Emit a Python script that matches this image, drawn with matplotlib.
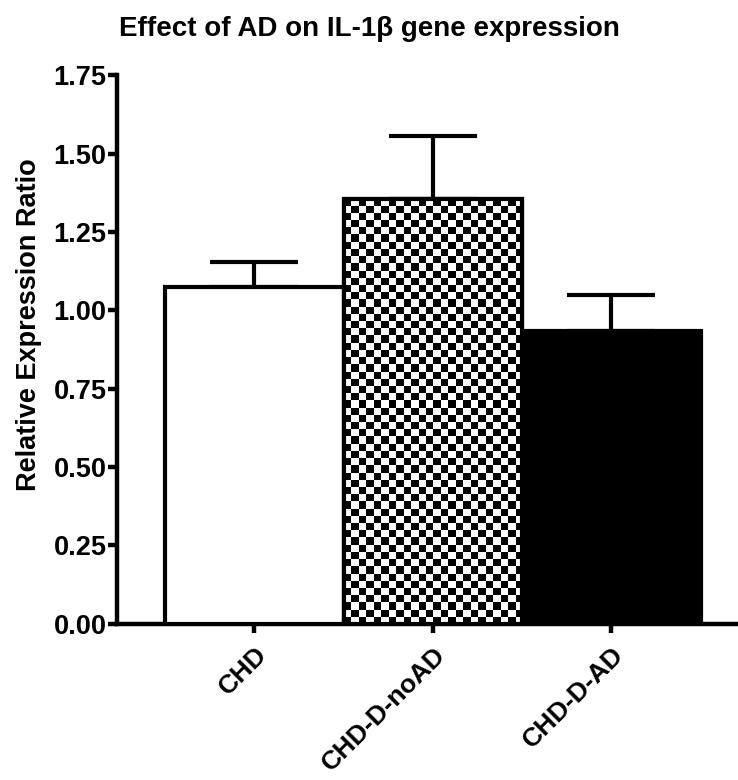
import numpy as np
import matplotlib
matplotlib.use("Agg")
import matplotlib.pyplot as plt
from matplotlib.transforms import ScaledTranslation

groups = ["CHD", "CHD-D-noAD", "CHD-D-AD"]
means = [1.075, 1.355, 0.935]
errors = [0.08, 0.20, 0.115]
y_ticks = [0.00, 0.25, 0.50, 0.75, 1.00, 1.25, 1.50, 1.75]

plt.rcParams["font.family"] = ["Liberation Sans", "DejaVu Sans"]
plt.rcParams["font.weight"] = "bold"

fig = plt.figure(figsize=(7.38, 7.8), dpi=100)
ax = fig.add_axes([0.1585, 0.2006, 0.8415, 0.7029])

x = np.arange(len(groups))
bars = ax.bar(x, means, width=1.0, color=["white", "white", "black"],
              edgecolor="black", linewidth=3, zorder=3)

# checkered fill for the middle bar, clipped to the bar patch
mid = bars[1]
ncols = 24
cell_y = 0.023
nrows = int(np.ceil(mid.get_height() / cell_y))
checker = (np.indices((nrows, ncols)).sum(axis=0) % 2).astype(float)
im = ax.imshow(checker, cmap="gray", interpolation="nearest", aspect="auto",
               extent=[mid.get_x(), mid.get_x() + mid.get_width(),
                        0, nrows * cell_y], origin="lower", zorder=3.5)
im.set_clip_path(mid)
ax.bar([x[1]], [means[1]], width=1.0, color="none", edgecolor="black",
       linewidth=3, zorder=4)

ax.errorbar(x, means, yerr=[[0] * len(groups), errors], fmt="none",
            ecolor="black", elinewidth=3, capsize=32, capthick=3, zorder=2)

ax.set_xlim(-0.77, 2.71)
ax.set_ylim(0, 1.75)
ax.set_yticks(y_ticks)
ax.set_yticklabels([f"{t:.2f}" for t in y_ticks], fontsize=19.5, fontweight="bold")
ax.set_xticks(x)
ax.set_xticklabels(groups, rotation=45, ha="right", rotation_mode="anchor",
                   fontsize=19, fontweight="bold")
shift = ScaledTranslation(-4.5 / 72, 0, fig.dpi_scale_trans)
for lbl in ax.get_xticklabels():
    lbl.set_transform(lbl.get_transform() + shift)
ax.tick_params(axis="both", direction="out", length=6.5, width=3.2)
ax.tick_params(axis="y", pad=1)
ax.tick_params(axis="x", pad=7)
for s in ["top", "right"]:
    ax.spines[s].set_visible(False)
for s in ["left", "bottom"]:
    ax.spines[s].set_linewidth(3.2)

ax.set_ylabel("Relative Expression Ratio", fontsize=19.5, fontweight="bold")
ax.yaxis.set_label_coords(-0.12, 0.545)
fig.text(0.5, 0.963, "Effect of AD on IL-1β gene expression", ha="center",
         va="center", fontsize=20, fontweight="bold")

fig.savefig("out.png", dpi=100)
